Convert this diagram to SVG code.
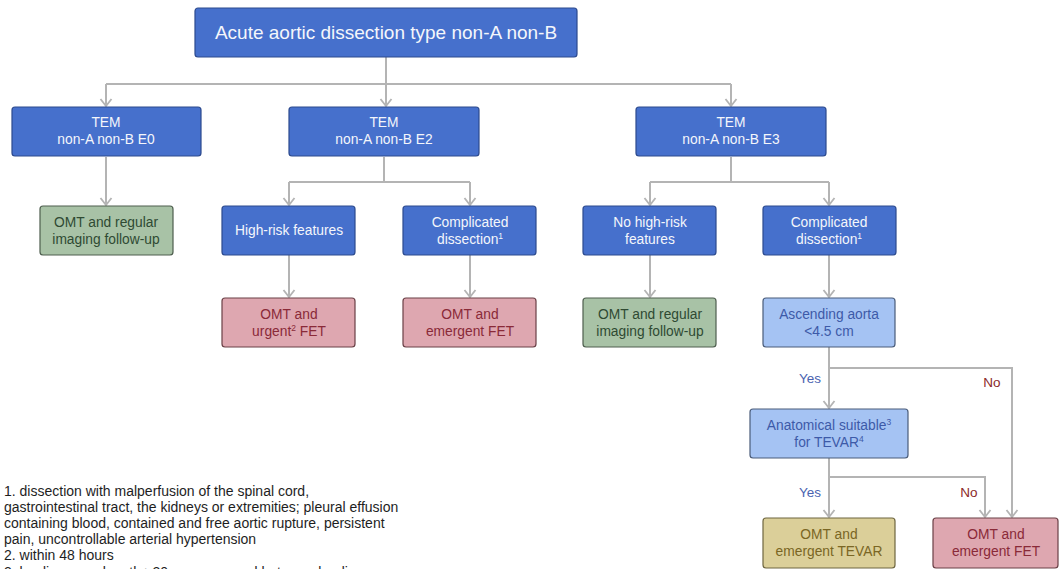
<svg xmlns="http://www.w3.org/2000/svg" width="1060" height="569" viewBox="0 0 1060 569">
<defs>
<marker id="ah" markerUnits="userSpaceOnUse" markerWidth="16" markerHeight="16" viewBox="-10 -8 12 16" refX="0" refY="0" orient="auto">
<path d="M-7,-5.5 L0,0 L-7,5.5" fill="none" stroke="#b4b4b4" stroke-width="1.8"/>
</marker>
</defs>
<style>
text{font-family:"Liberation Sans",Arial,sans-serif;text-anchor:middle}
.dk rect{fill:#4670cc;stroke:#2c4a8e;stroke-width:1.2}
.dk text{fill:#f4f6fb;font-size:13.8px}
.gr rect{fill:#a8c2a6;stroke:#4e5e4e;stroke-width:1.2}
.gr text{fill:#2f4a33;font-size:13.8px}
.pk rect{fill:#dea7b0;stroke:#6a4046;stroke-width:1.2}
.pk text{fill:#8a2a38;font-size:13.8px}
.lb rect{fill:#a5c3f3;stroke:#4a5c7a;stroke-width:1.2}
.lb text{fill:#3d5aa8;font-size:13.8px}
.tn rect{fill:#dbcf99;stroke:#6e6640;stroke-width:1.2}
.tn text{fill:#7a6624;font-size:13.8px}
.sup{font-size:8.5px}
#connectors path{fill:none;stroke:#b4b4b4;stroke-width:2}
.yes{fill:#4a63b0;font-size:13.5px}
.no{fill:#8b2a2a;font-size:13.5px}
.note{font-size:14px;fill:#1e1e1e;text-anchor:start}
</style>
<g id="connectors">
<path d="M386,57 V106" marker-end="url(#ah)"/>
<path d="M106,84 H731"/>
<path d="M106,84 V106" marker-end="url(#ah)"/>
<path d="M731,84 V106" marker-end="url(#ah)"/>
<path d="M106,157 V205" marker-end="url(#ah)"/>
<path d="M384,157 V182 M289,182 H470"/>
<path d="M289,182 V205" marker-end="url(#ah)"/>
<path d="M470,182 V205" marker-end="url(#ah)"/>
<path d="M731,157 V182 M650,182 H829"/>
<path d="M650,182 V205" marker-end="url(#ah)"/>
<path d="M829,182 V205" marker-end="url(#ah)"/>
<path d="M289,255 V297" marker-end="url(#ah)"/>
<path d="M470,255 V297" marker-end="url(#ah)"/>
<path d="M650,255 V297" marker-end="url(#ah)"/>
<path d="M829,255 V297" marker-end="url(#ah)"/>
<path d="M829,347 V408" marker-end="url(#ah)"/>
<path d="M829,368 H1012 V517" marker-end="url(#ah)"/>
<path d="M829,458 V517" marker-end="url(#ah)"/>
<path d="M829,477 H985 V517" marker-end="url(#ah)"/>
<text class="yes" x="810" y="383">Yes</text>
<text class="no" x="992" y="387">No</text>
<text class="yes" x="810" y="497">Yes</text>
<text class="no" x="969" y="497">No</text>
</g>
<g id="n-root" class="dk"><rect x="195" y="8" width="382" height="49" rx="3"/><text x="386" y="39" style="font-size:19px">Acute aortic dissection type non-A non-B</text></g>
<g id="n-e0" class="dk"><rect x="12" y="107" width="189" height="49" rx="3"/><text x="106" y="127">TEM</text><text x="106" y="144">non-A non-B E0</text></g>
<g id="n-e2" class="dk"><rect x="289" y="107" width="190" height="49" rx="3"/><text x="384" y="127">TEM</text><text x="384" y="144">non-A non-B E2</text></g>
<g id="n-e3" class="dk"><rect x="636" y="107" width="190" height="49" rx="3"/><text x="731" y="127">TEM</text><text x="731" y="144">non-A non-B E3</text></g>
<g id="n-e0-omt" class="gr"><rect x="40" y="206" width="133" height="49" rx="3"/><text x="106" y="227">OMT and regular</text><text x="106" y="244">imaging follow-up</text></g>
<g id="n-highrisk" class="dk"><rect x="222" y="206" width="133" height="49" rx="3"/><text x="289" y="235">High-risk features</text></g>
<g id="n-comp2" class="dk"><rect x="403" y="206" width="133" height="49" rx="3"/><text x="470" y="227">Complicated</text><text x="470" y="244">dissection<tspan class="sup" dy="-5">1</tspan></text></g>
<g id="n-nohigh" class="dk"><rect x="583" y="206" width="133" height="49" rx="3"/><text x="650" y="227">No high-risk</text><text x="650" y="244">features</text></g>
<g id="n-comp3" class="dk"><rect x="763" y="206" width="133" height="49" rx="3"/><text x="829" y="227">Complicated</text><text x="829" y="244">dissection<tspan class="sup" dy="-5">1</tspan></text></g>
<g id="n-urgent" class="pk"><rect x="222" y="298" width="133" height="49" rx="3"/><text x="289" y="319">OMT and</text><text x="289" y="336">urgent<tspan class="sup" dy="-5">2</tspan><tspan dy="5"> FET</tspan></text></g>
<g id="n-emerg2" class="pk"><rect x="403" y="298" width="133" height="49" rx="3"/><text x="470" y="319">OMT and</text><text x="470" y="336">emergent FET</text></g>
<g id="n-e3-omt" class="gr"><rect x="583" y="298" width="133" height="49" rx="3"/><text x="650" y="319">OMT and regular</text><text x="650" y="336">imaging follow-up</text></g>
<g id="n-asc" class="lb"><rect x="763" y="298" width="132" height="49" rx="3"/><text x="829" y="319">Ascending aorta</text><text x="829" y="336">&lt;4.5 cm</text></g>
<g id="n-anat" class="lb"><rect x="750" y="409" width="158" height="49" rx="3"/><text x="829" y="430">Anatomical suitable<tspan class="sup" dy="-5">3</tspan></text><text x="829" y="447">for TEVAR<tspan class="sup" dy="-5">4</tspan></text></g>
<g id="n-tevar" class="tn"><rect x="763" y="518" width="132" height="50" rx="3"/><text x="829" y="539">OMT and</text><text x="829" y="556">emergent TEVAR</text></g>
<g id="n-fet" class="pk"><rect x="933" y="518" width="125" height="50" rx="3"/><text x="996" y="539">OMT and</text><text x="996" y="556">emergent FET</text></g>
<g id="notes">
<text class="note" x="4" y="496">1. dissection with malperfusion of the spinal cord,</text>
<text class="note" x="4" y="512">gastrointestinal tract, the kidneys or extremities; pleural effusion</text>
<text class="note" x="4" y="528">containing blood, contained and free aortic rupture, persistent</text>
<text class="note" x="4" y="544">pain, uncontrollable arterial hypertension</text>
<text class="note" x="4" y="560">2. within 48 hours</text>
<text class="note" x="4" y="577">3. landing zone length ≥20mm measured between landing zone</text>
</g>
</svg>
